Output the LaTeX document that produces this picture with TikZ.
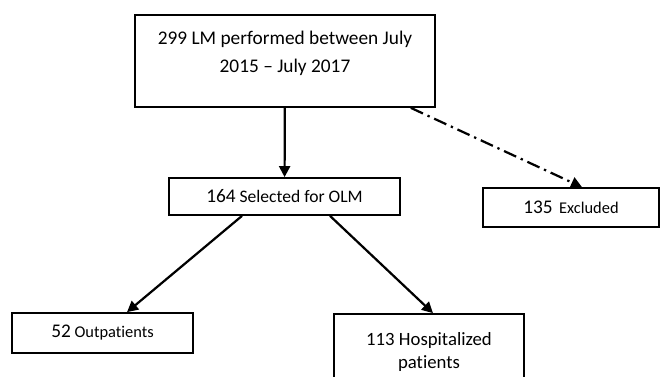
\documentclass[tikz,border=0pt]{standalone}
\usepackage{fontspec}
\setmainfont{Carlito}[Ligatures=NoCommon]
\usetikzlibrary{arrows.meta}

\newcommand{\bignum}[1]{{\fontsize{16.5}{20}\selectfont #1}}

\begin{document}
\begin{tikzpicture}[
  flowbox/.style={draw, line width=1.5pt, align=center, inner sep=2pt},
  arr/.style={-{Triangle[length=3.3mm, width=3.3mm]}, line width=1.9pt},
  dasharr/.style={arr, dash pattern=on 4mm off 1.5mm on 0.7mm off 1.5mm},
]
\useasboundingbox (0,0) rectangle (19.83,-11.28);

% ===== boxes =====
\node[flowbox, minimum width=9cm, minimum height=2.76cm, text depth=0.55cm,
  font=\fontsize{16.5}{23.8}\selectfont] (total) at (8.55,-1.83)
  {299 LM performed between July\\2015 -- July 2017};
\node[flowbox, minimum width=6.93cm, minimum height=1.11cm,
  font=\fontsize{15}{18}\selectfont] (sel) at (8.535,-5.895)
  {\bignum{164} Selected for OLM};
\node[flowbox, minimum width=5.28cm, minimum height=1.17cm,
  font=\fontsize{14}{17}\selectfont] (excl) at (17.13,-6.225)
  {\bignum{135}\, Excluded};
\node[flowbox, minimum width=5.43cm, minimum height=1.2cm,
  font=\fontsize{14}{17}\selectfont] (outp) at (3.075,-9.99)
  {\bignum{52} Outpatients};
\node[flowbox, minimum width=5.7cm, minimum height=2.28cm,
  font=\fontsize{16}{19}\selectfont] (hosp) at (12.87,-10.56)
  {113 Hospitalized\\patients};

% ===== connectors =====
\draw[arr] (total) -- (sel);
\draw[dasharr] ([xshift=-0.75cm]total.south east) -- ([xshift=0.33cm]excl.north);
\draw[arr] ([xshift=-1.275cm]sel.south) -- ([xshift=0.735cm]outp.north);
\draw[arr] ([xshift=1.365cm]sel.south) -- ([xshift=0.12cm]hosp.north);

\end{tikzpicture}
\end{document}
